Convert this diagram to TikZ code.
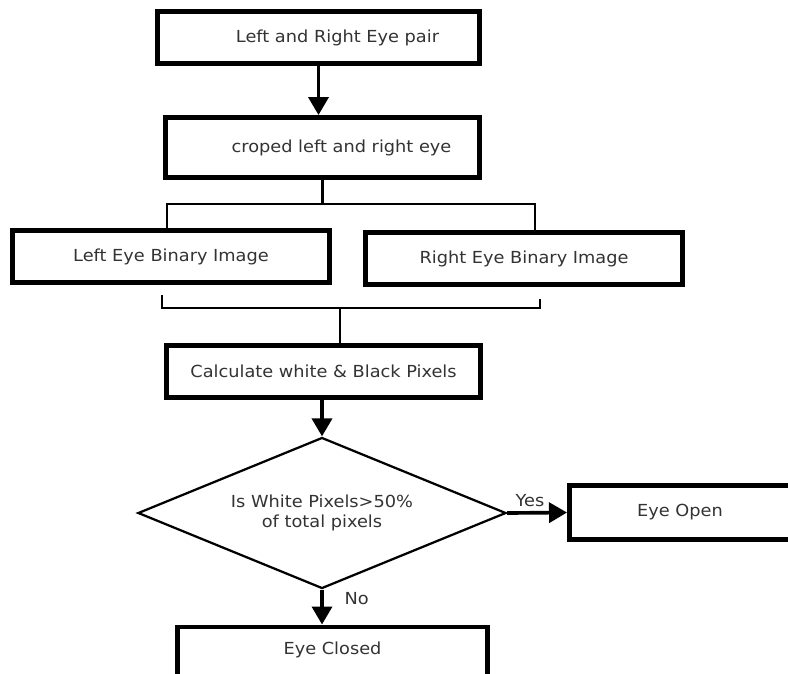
\documentclass[tikz,border=0pt]{standalone}
\usepackage{fontspec}
\setmainfont{DejaVu Sans}[FakeStretch=1.07]
\usetikzlibrary{shapes.geometric,arrows.meta}

\begin{document}
\begin{tikzpicture}[x=0.025cm, y=-0.025cm,
  every node/.style={font=\fontsize{11.8}{14}\selectfont, text=black!80},
  box/.style={draw, line width=3.5pt, minimum width=7.9cm, minimum height=1.3cm},
  link/.style={line width=2.1pt},
  flow/.style={line width=2.6pt, -{Triangle[length=0.45cm, width=0.5cm]}}]
  \clip (0,0) rectangle (788,673);
  \fill[white] (0,0) rectangle (788,673);

  \node[box, minimum width=8.05cm] (pair) at (318.5,37.5) {\hspace*{0.95cm}Left and Right Eye pair};
  \node[box, minimum width=7.85cm, minimum height=1.5cm] (crop) at (322.5,147.5) {\hspace*{0.95cm}croped left and right eye};
  \node[box, minimum width=7.925cm] (leftbin) at (171,256.5) {Left Eye Binary Image};
  \node[box, minimum width=7.925cm] (rightbin) at (524,258.5) {Right Eye Binary Image};
  \node[box, minimum width=7.85cm] (calc) at (323.5,371.5) {Calculate white \& Black Pixels};
  \node[diamond, draw, line width=1.6pt, aspect=2.44, minimum width=9.2cm, minimum height=3.775cm,
        inner sep=0pt, align=center] (decide) at (322,513) {Is White Pixels>50\%\\of total pixels};
  \node[box, minimum width=5.525cm, minimum height=1.35cm] (open) at (680,512.5) {Eye Open};
  \node[box, anchor=north, minimum width=7.75cm, text height=0.42cm, text depth=2cm,
        inner ysep=0.28cm] (closed) at (332.5,624.5) {Eye Closed};

  % split to both eyes
  \coordinate (split) at (322.5,204);
  \coordinate (merge) at (340,308);
  \draw[flow] (pair.south) -- (pair.south |- crop.north);
  \draw[link] (crop.south) -- (split);
  \draw[link] ([xshift=-0.1cm]leftbin.north) |- (split) -| ([xshift=0.275cm]rightbin.north);
  \draw[link] ([xshift=-0.225cm, yshift=-0.26cm]leftbin.south) |- (merge)
    -| ([xshift=0.4cm, yshift=-0.3cm]rightbin.south);
  \draw[link] (merge) -- (merge |- calc.north);

  \draw[flow] (calc.south -| decide.north) -- (decide.north);
  \draw[flow] (decide.east) -- node[above, pos=0.38] {Yes} (open.west);
  \draw[flow] (decide.south) -- node[right, pos=0.26, xshift=0.4cm] {No} (decide.south |- closed.north);
\end{tikzpicture}
\end{document}
